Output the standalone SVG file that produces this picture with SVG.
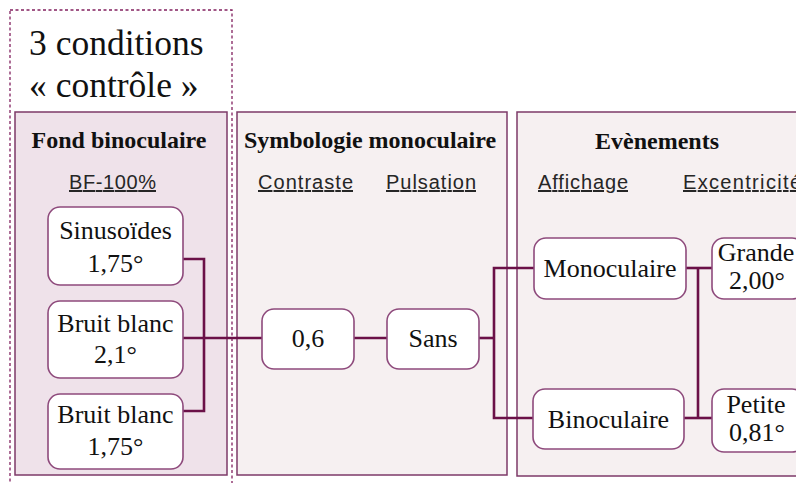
<svg xmlns="http://www.w3.org/2000/svg" width="796" height="483" viewBox="0 0 796 483">
<style>
.panel{stroke:#7d3a68;stroke-width:1.5}
.node{fill:#ffffff;stroke:#8e4a7c;stroke-width:1.6}
.t{font-family:"Liberation Serif","Times New Roman",serif;font-size:26px;fill:#111;text-anchor:middle}
.h{font-family:"Liberation Serif","Times New Roman",serif;font-size:24px;font-weight:bold;fill:#111;text-anchor:middle}
.u{font-family:"Liberation Sans",Arial,sans-serif;font-size:20px;fill:#262626;text-decoration:underline}
.big{font-family:"Liberation Serif","Times New Roman",serif;font-size:35.5px;fill:#111}
.conn{fill:none;stroke:#6b1148;stroke-width:2.6}
</style>
<rect width="796" height="483" fill="#ffffff"/>
<g id="controle">
<rect x="10" y="10" width="222" height="495" fill="none" stroke="#82205f" stroke-width="1.3" stroke-dasharray="3,2.5"/>
<text class="big" x="29" y="55">3 conditions</text>
<text class="big" x="29" y="97">« contrôle »</text>
</g>
<g id="panel-fond">
<rect class="panel" x="15" y="112" width="212" height="363" fill="#efe2ea"/>
<text class="h" x="119" y="148">Fond binoculaire</text>
<text class="u" x="69" y="189" textLength="87" lengthAdjust="spacing">BF-100%</text>
</g>
<g id="panel-symbologie">
<rect class="panel" x="237" y="112" width="270" height="363" fill="#f6f0f1"/>
<text class="h" x="370" y="148">Symbologie monoculaire</text>
<text class="u" x="258" y="189" textLength="95" lengthAdjust="spacing">Contraste</text>
<text class="u" x="386" y="189" textLength="90" lengthAdjust="spacing">Pulsation</text>
</g>
<g id="panel-evenements">
<rect class="panel" x="517" y="112" width="300" height="364" fill="#f6f0f1"/>
<text class="h" x="657" y="149">Evènements</text>
<text class="u" x="538" y="189" textLength="90" lengthAdjust="spacing">Affichage</text>
<text class="u" x="683" y="189" textLength="118" lengthAdjust="spacing">Excentricité</text>
</g>
<g id="connectors">
<path class="conn" d="M183,259 H204 V411 H183"/>
<path class="conn" d="M183,338 H262"/>
<path class="conn" d="M354,338 H387"/>
<path class="conn" d="M479,338 H494"/>
<path class="conn" d="M534,268 H494 V418 H533"/>
<path class="conn" d="M686,268 H712"/>
<path class="conn" d="M684,418 H712"/>
<path class="conn" d="M698,268 V418"/>
</g>
<g id="sinusoides">
<rect class="node" x="48" y="207" width="135" height="78" rx="12"/>
<text class="t" x="115.5" y="239">Sinusoïdes</text>
<text class="t" x="115.5" y="272">1,75°</text>
</g>
<g id="bruit-21">
<rect class="node" x="48" y="301" width="135" height="77" rx="12"/>
<text class="t" x="115.5" y="332">Bruit blanc</text>
<text class="t" x="115.5" y="363">2,1°</text>
</g>
<g id="bruit-175">
<rect class="node" x="48" y="394" width="135" height="75" rx="12"/>
<text class="t" x="115.5" y="423">Bruit blanc</text>
<text class="t" x="115.5" y="455">1,75°</text>
</g>
<g id="contraste-06">
<rect class="node" x="262" y="309" width="92" height="60" rx="12"/>
<text class="t" x="308" y="347">0,6</text>
</g>
<g id="pulsation-sans">
<rect class="node" x="387" y="309" width="92" height="60" rx="12"/>
<text class="t" x="433" y="347">Sans</text>
</g>
<g id="monoculaire">
<rect class="node" x="534" y="238" width="152" height="61" rx="12"/>
<text class="t" x="610" y="277">Monoculaire</text>
</g>
<g id="binoculaire">
<rect class="node" x="533" y="389" width="151" height="60" rx="12"/>
<text class="t" x="608.5" y="428">Binoculaire</text>
</g>
<g id="grande">
<rect class="node" x="712" y="238" width="92" height="61" rx="12"/>
<text class="t" x="756" y="261">Grande</text>
<text class="t" x="757" y="289">2,00°</text>
</g>
<g id="petite">
<rect class="node" x="712" y="389" width="92" height="63" rx="12"/>
<text class="t" x="756" y="413">Petite</text>
<text class="t" x="757" y="441">0,81°</text>
</g>
</svg>
